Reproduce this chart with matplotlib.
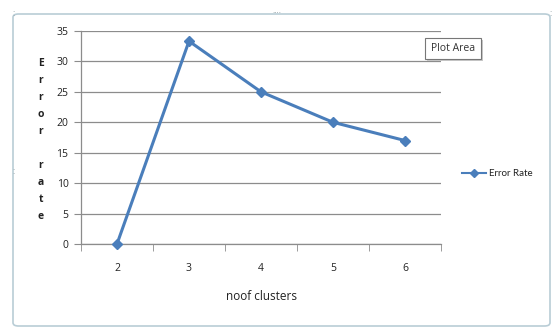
import matplotlib
matplotlib.use("Agg")
import matplotlib.pyplot as plt
from matplotlib.patches import FancyBboxPatch, Rectangle
from matplotlib.lines import Line2D

# Data
clusters = ["2", "3", "4", "5", "6"]
error_rate = [0, 33.33, 25, 20, 17]
y_ticks = [0, 5, 10, 15, 20, 25, 30, 35]
series_name = "Error Rate"
x_title = "noof clusters"
y_title = "Error rate"

W, H = 554, 330
plt.rcParams["font.family"] = ["Open Sans", "DejaVu Sans"]
fig = plt.figure(figsize=(W / 100, H / 100), dpi=100)
fig.patch.set_facecolor("white")


def fx(px):
    return px / W


def fy(py):
    return 1 - py / H


# Chart area frame
frame = FancyBboxPatch((fx(13), fy(326)), fx(537), fy(14) - fy(326),
                       boxstyle="round,pad=0,rounding_size=0.01",
                       transform=fig.transFigure, facecolor="none",
                       edgecolor="#b9cdd6", linewidth=1.2, zorder=-1)
fig.patches.append(frame)

# Selection handles
fig.text(fx(277), fy(13), "····", fontsize=5, color="#8a9aa0",
         ha="center", va="center", family="DejaVu Sans")
for (hx, hy) in [(13, 14), (550, 14), (13, 172)]:
    fig.text(fx(hx), fy(hy), "⁚", fontsize=5, color="#8a9aa0",
             ha="center", va="center", family="DejaVu Sans")

ax = fig.add_axes([fx(81), fy(244), fx(441) - fx(81), fy(31) - fy(244)])
ax.set_facecolor("none")
ax.set_zorder(2)

x = list(range(len(clusters)))
ax.plot(x, error_rate, color="#4a7ebb", linewidth=2.2, marker="D",
        markersize=5.5, markerfacecolor="#4a7ebb", markeredgecolor="#4a7ebb",
        zorder=3, clip_on=False)

ax.set_xlim(-0.5, len(clusters) - 0.5)
ax.set_ylim(0, 35)
ax.set_yticks(y_ticks)
ax.set_xticks(x)
ax.set_xticklabels(clusters)
ax.set_xticks([i - 0.5 for i in range(len(clusters) + 1)], minor=True)

ax.grid(axis="y", color="#8c8c8c", linewidth=0.9)
ax.set_axisbelow(True)
for side in ["top", "right"]:
    ax.spines[side].set_visible(False)
for side in ["left", "bottom"]:
    ax.spines[side].set_color("#8c8c8c")
    ax.spines[side].set_linewidth(0.9)

ax.tick_params(axis="x", which="major", length=0, pad=14, labelsize=7.5,
               colors="#222222")
ax.tick_params(axis="x", which="minor", length=5, direction="out",
               color="#8c8c8c")
ax.tick_params(axis="y", length=5, direction="out", color="#8c8c8c",
               pad=4, labelsize=7.5, labelcolor="#222222")

ax.set_xlabel(x_title, fontsize=8.5, color="#222222", labelpad=11)

# Vertical stacked axis title
top, step = 63, 17.1
for i, ch in enumerate(y_title):
    if ch != " ":
        fig.text(fx(41), fy(top + i * step), ch, fontsize=7.5,
                 fontweight="bold", color="#222222", ha="center", va="center")

# Legend
lx, ly = 462, 173
fig.add_artist(Line2D([fx(lx), fx(lx + 24)], [fy(ly), fy(ly)],
                      color="#4a7ebb", linewidth=1.5,
                      transform=fig.transFigure))
fig.add_artist(Line2D([fx(lx + 12)], [fy(ly)], color="#4a7ebb", marker="D",
                      markersize=4.5, linestyle="none",
                      transform=fig.transFigure))
fig.text(fx(lx + 27), fy(ly), series_name, fontsize=7, color="#222222",
         ha="left", va="center", family=["Lato", "DejaVu Sans"])

# Hover label box
fig.patches.append(Rectangle((fx(427), fy(61)), fx(56), fy(40) - fy(61),
                             transform=fig.transFigure, facecolor="#c8c8c8",
                             edgecolor="none", zorder=4))
fig.patches.append(Rectangle((fx(425), fy(59)), fx(56), fy(38) - fy(59),
                             transform=fig.transFigure, facecolor="white",
                             edgecolor="#777777", linewidth=0.8, zorder=5))
fig.text(fx(453), fy(48.5), "Plot Area", fontsize=7.5, color="#333333",
         ha="center", va="center", zorder=6)

fig.savefig("out.png", dpi=100)
